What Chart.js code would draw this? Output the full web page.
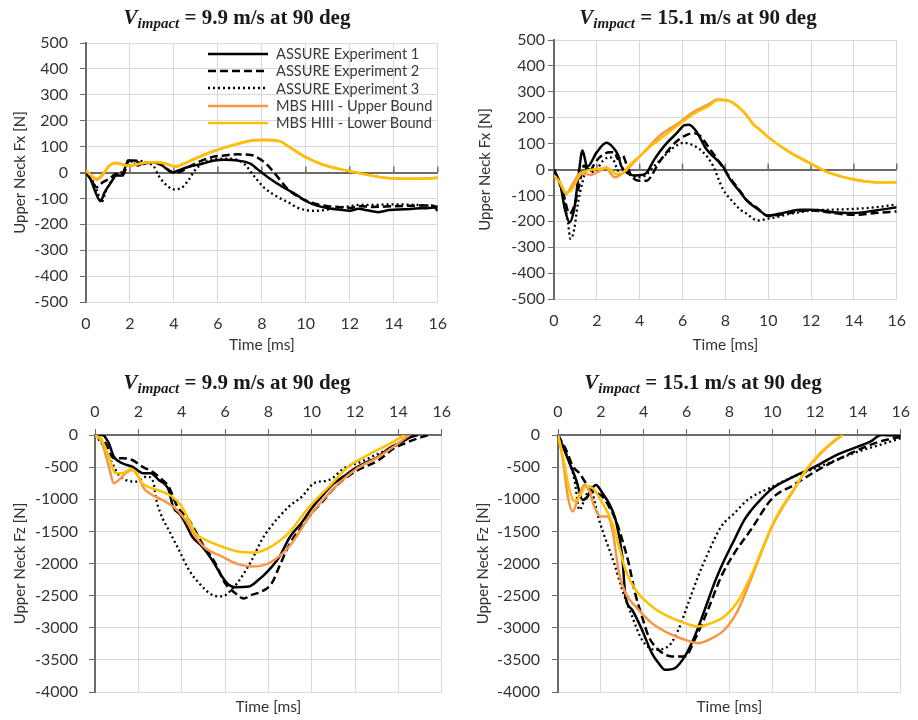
<!DOCTYPE html>
<html lang="en">
<head>
<meta charset="UTF-8">
<title>Upper Neck Forces</title>
<script src="https://cdn.jsdelivr.net/npm/chart.js@4.4.1/dist/chart.umd.min.js"></script>
<style>
  body { margin: 0; background: #fff; }
  #wrap { position: relative; width: 918px; height: 720px; overflow: hidden; }
  canvas { position: absolute; }
  .ttl { position: absolute; transform: translate(-50%, -50%); white-space: nowrap;
         font-family: "Liberation Serif", serif; font-weight: bold; font-size: 21px; color: #1a1a1a; }
  .ttl sub { font-size: 15px; vertical-align: -4px; }
  .legend { position: absolute; left: 208px; top: 45px; font-family: Lato, sans-serif; font-size: 14.6px; color: #3a3a3a; }
  .legend div { height: 17.3px; display: flex; align-items: center; white-space: nowrap; }
  .legend svg { width: 60px; height: 6px; margin-right: 8px; }
</style>
</head>
<body>
<div id="wrap">
  <canvas id="c1" width="459" height="358" style="left:0;top:0"></canvas>
  <canvas id="c2" width="458" height="358" style="left:460px;top:0"></canvas>
  <canvas id="c3" width="459" height="360" style="left:0;top:360px"></canvas>
  <canvas id="c4" width="458" height="360" style="left:460px;top:360px"></canvas>

  <div class="ttl" style="left:237px;top:18px"><i>V</i><sub><i>impact</i></sub> = 9.9 m/s at 90 deg</div>
  <div class="ttl" style="left:698px;top:18px"><i>V</i><sub><i>impact</i></sub> = 15.1 m/s at 90 deg</div>
  <div class="ttl" style="left:237px;top:383px"><i>V</i><sub><i>impact</i></sub> = 9.9 m/s at 90 deg</div>
  <div class="ttl" style="left:703px;top:383px"><i>V</i><sub><i>impact</i></sub> = 15.1 m/s at 90 deg</div>

  <div class="legend" id="legend"></div>
</div>

<script>
// series names
var seriesNames = ["ASSURE Experiment 1", "ASSURE Experiment 2", "ASSURE Experiment 3",
                   "MBS HIII - Upper Bound", "MBS HIII - Lower Bound"]

// time ticks (ms)
var timeMin = 0, timeMax = 16, timeStep = 2

// --- Upper neck Fx, 9.9 m/s  [time ms, force N]
var fx99Exp1 = [[0,0],[0.2,-25],[0.45,-80],[0.66,-111],[0.85,-76],[1.15,-37],[1.37,-12],[1.6,-12],[1.82,27],[1.97,46],[2.19,46],[2.56,33],[3.0,40],[3.46,27],[3.76,8],[3.98,1],[4.2,8],[4.65,21],[5.25,33],[5.84,46],[6.3,49],[6.9,46],[7.5,33],[7.78,14],[8.37,-24],[8.97,-57],[9.56,-85],[10.0,-110],[10.5,-128],[11.0,-138],[11.5,-143],[12.0,-148],[12.4,-140],[12.8,-146],[13.3,-153],[13.8,-145],[14.5,-142],[15.0,-139],[15.6,-137],[15.85,-135],[16.0,-148]]
var fx99Exp2 = [[0,0],[0.25,-30],[0.48,-57],[0.77,-37],[1.07,-24],[1.37,-5],[1.67,-12],[1.82,21],[1.9,46],[2.1,40],[2.34,27],[2.7,40],[3.15,40],[3.6,21],[3.9,1],[4.2,1],[4.65,21],[5.1,40],[5.7,59],[6.3,66],[6.9,70],[7.5,68],[7.78,59],[8.2,33],[8.67,-12],[9.1,-57],[9.56,-89],[10.0,-108],[10.5,-122],[11.0,-130],[11.5,-133],[12.0,-137],[12.5,-130],[13.0,-133],[14.0,-130],[15.0,-128],[15.7,-127],[16.0,-135]]
var fx99Exp3 = [[0,0],[0.33,-37],[0.55,-82],[0.7,-115],[0.92,-70],[1.22,-24],[1.52,-5],[1.82,14],[2.04,40],[2.34,46],[2.7,40],[3.1,21],[3.3,-12],[3.6,-44],[3.98,-65],[4.35,-59],[4.65,-31],[4.95,8],[5.4,40],[6.0,53],[6.6,53],[7.2,33],[7.63,-12],[8.08,-57],[8.67,-92],[9.26,-118],[9.6,-135],[10.0,-145],[10.5,-148],[11.0,-143],[11.5,-135],[12.0,-130],[12.5,-125],[13.0,-125],[14.0,-123],[15.0,-125],[16.0,-130]]
var fx99Upper = [[0,8],[0.25,-14],[0.48,-28],[0.77,-8],[1.07,27],[1.37,38],[1.67,31],[1.97,25],[2.4,33],[2.86,40],[3.3,40],[3.76,30],[4.05,22],[4.35,30],[4.95,53],[5.7,79],[6.44,100],[7.18,117],[7.6,125],[8.08,126],[8.8,121],[9.26,98],[10.0,59],[10.75,31],[11.5,14],[12.24,1],[12.98,-12],[13.7,-21],[14.45,-24],[15.2,-24],[15.9,-21],[16.0,-20]]
var fx99Lower = [[0,8],[0.25,-12],[0.48,-24],[0.77,-5],[1.07,27],[1.37,36],[1.67,30],[1.97,27],[2.4,33],[2.86,40],[3.3,40],[3.76,30],[4.05,23],[4.35,31],[4.95,53],[5.7,79],[6.44,100],[7.18,117],[7.6,124],[8.08,125],[8.8,121],[9.26,98],[10.0,59],[10.75,31],[11.5,14],[12.24,1],[12.98,-12],[13.7,-21],[14.45,-24],[15.2,-24],[15.9,-21],[16.0,-20]]

// --- Upper neck Fx, 15.1 m/s
var fx151Exp1 = [[0,0],[0.3,-60],[0.5,-150],[0.72,-204],[0.95,-150],[1.15,-20],[1.33,73],[1.55,10],[2.0,67],[2.45,103],[2.75,86],[3.0,54],[3.13,15],[3.36,-10],[3.8,-23],[4.26,-17],[4.7,41],[5.17,93],[5.77,144],[6.07,170],[6.3,173],[6.67,144],[7.1,80],[7.9,10],[8.2,-35],[8.7,-88],[9.0,-120],[9.5,-152],[10.0,-178],[10.5,-171],[11.0,-162],[11.5,-155],[12.0,-155],[12.5,-158],[13.0,-165],[14.0,-168],[15.0,-158],[16.0,-146]]
var fx151Exp2 = [[0,0],[0.42,-88],[0.72,-171],[0.95,-139],[1.17,-62],[1.4,15],[1.63,-10],[1.93,28],[2.23,54],[2.6,67],[2.83,67],[2.98,41],[3.2,54],[3.43,9],[3.66,-30],[3.96,-43],[4.34,-43],[4.56,-23],[4.86,22],[5.32,73],[5.77,112],[6.2,134],[6.5,140],[6.8,131],[7.27,80],[7.72,28],[8.2,-30],[8.7,-85],[9.0,-118],[9.5,-150],[10.0,-180],[10.5,-175],[11.0,-168],[11.5,-160],[12.0,-158],[13.0,-168],[14.0,-175],[15.0,-168],[16.0,-162]]
var fx151Exp3 = [[0,0],[0.42,-100],[0.65,-204],[0.77,-268],[0.95,-229],[1.1,-139],[1.33,-49],[1.55,3],[1.85,-10],[2.3,35],[2.6,48],[2.83,28],[2.98,-4],[3.28,3],[3.5,-17],[3.88,-30],[4.26,-23],[4.7,15],[5.17,54],[5.6,86],[6.07,103],[6.5,93],[6.96,67],[7.42,15],[7.88,-75],[8.3,-120],[8.7,-155],[9.0,-171],[9.5,-197],[10.0,-190],[10.5,-182],[11.0,-171],[11.5,-165],[12.0,-158],[13.0,-155],[14.0,-152],[15.0,-146],[16.0,-135]]
var fx151Upper = [[0,-23],[0.3,-55],[0.57,-94],[0.85,-60],[1.25,-13],[1.7,-21],[2.15,-4],[2.45,9],[2.6,-10],[2.83,-30],[3.05,-23],[3.36,-4],[3.66,22],[4.26,73],[5.0,135],[5.77,177],[6.5,222],[7.27,254],[7.6,270],[8.0,268],[8.3,260],[8.7,235],[9.0,209],[9.3,175],[9.6,155],[10.0,125],[11.0,67],[12.0,22],[12.6,-4],[13.0,-17],[14.0,-39],[15.0,-49],[16.0,-49]]
var fx151Lower = [[0,-23],[0.27,-49],[0.57,-90],[0.8,-81],[1.02,-49],[1.25,-17],[1.55,-4],[1.85,0],[2.15,3],[2.45,6],[2.68,-4],[2.9,-17],[3.2,-13],[3.5,15],[3.96,48],[4.56,93],[5.17,131],[5.77,170],[6.52,215],[7.27,247],[7.6,267],[8.0,267],[8.3,260],[8.7,235],[9.0,209],[9.3,175],[9.6,155],[10.0,125],[11.0,67],[12.0,22],[12.6,-4],[13.0,-17],[14.0,-39],[15.0,-49],[16.0,-49]]

// --- Upper neck Fz, 9.9 m/s
var fz99Exp1 = [[0,0],[0.34,0],[0.64,-130],[0.87,-337],[1.26,-440],[1.72,-492],[2.25,-596],[2.56,-596],[2.94,-700],[3.4,-855],[3.6,-1114],[3.94,-1243],[4.25,-1425],[4.48,-1580],[4.94,-1736],[5.4,-1943],[5.86,-2202],[6.17,-2332],[6.47,-2368],[7.1,-2358],[7.55,-2254],[8.0,-2110],[8.5,-1900],[9.0,-1584],[9.5,-1380],[10.0,-1140],[10.5,-940],[11.0,-760],[11.5,-640],[12.0,-518],[12.5,-430],[13.0,-350],[13.7,-181],[14.2,-100],[14.6,-30],[14.9,0]]
var fz99Exp2 = [[0,0],[0.49,-130],[0.87,-363],[1.26,-363],[1.72,-389],[2.18,-492],[2.64,-570],[3.02,-674],[3.4,-803],[3.8,-1114],[4.33,-1321],[4.94,-1684],[5.55,-1995],[6.0,-2306],[6.47,-2461],[6.86,-2545],[7.24,-2487],[7.7,-2435],[8.16,-2306],[8.5,-2050],[9.0,-1684],[9.55,-1425],[10.0,-1218],[10.5,-1036],[11.1,-803],[12.0,-570],[13.1,-389],[13.8,-207],[14.3,-130],[14.9,-52],[15.4,0]]
var fz99Exp3 = [[0,0],[0.41,-181],[0.8,-440],[1.1,-622],[1.41,-700],[1.87,-725],[2.4,-648],[2.71,-751],[2.8,-959],[3.02,-1218],[3.4,-1477],[3.87,-1788],[4.33,-2098],[4.8,-2306],[5.4,-2487],[5.86,-2513],[6.3,-2409],[6.78,-2202],[7.24,-1943],[7.7,-1632],[8.0,-1477],[8.95,-1114],[9.55,-959],[10.1,-751],[10.8,-700],[11.5,-518],[12.3,-415],[13.1,-285],[13.8,-181],[14.4,-52],[14.6,0]]
var fz99Upper = [[0,0],[0.3,-104],[0.64,-492],[0.87,-751],[1.1,-700],[1.41,-596],[1.72,-544],[2.0,-648],[2.25,-829],[2.64,-933],[3.1,-1010],[3.7,-1140],[4.17,-1321],[4.63,-1580],[5.1,-1762],[5.86,-1891],[6.47,-1995],[7.24,-2046],[8.0,-2000],[8.95,-1740],[10.0,-1218],[11.1,-803],[12.0,-544],[13.1,-337],[14.0,-130],[14.5,0]]
var fz99Lower = [[0,0],[0.3,-78],[0.64,-337],[0.95,-596],[1.26,-596],[1.64,-534],[1.87,-570],[2.18,-751],[2.64,-829],[3.1,-881],[3.56,-959],[4.0,-1114],[4.33,-1321],[4.63,-1529],[5.1,-1632],[5.86,-1736],[6.6,-1813],[7.4,-1829],[8.0,-1762],[8.95,-1520],[9.9,-1114],[10.8,-803],[11.7,-492],[12.6,-311],[13.5,-155],[14.3,0]]

// --- Upper neck Fz, 15.1 m/s
var fz151Exp1 = [[0,0],[0.23,-181],[0.54,-440],[0.85,-700],[1.15,-1010],[1.38,-959],[1.54,-855],[1.77,-777],[2.08,-907],[2.38,-1062],[2.69,-1321],[3.0,-1891],[3.15,-2513],[3.46,-2720],[3.92,-3031],[4.38,-3394],[4.69,-3549],[5.0,-3653],[5.46,-3627],[5.92,-3446],[6.38,-3135],[6.85,-2720],[7.3,-2306],[7.77,-1943],[8.23,-1632],[8.7,-1321],[9.0,-1180],[9.5,-990],[10.0,-831],[11.0,-649],[12.0,-494],[13.0,-312],[14.0,-182],[14.6,-100],[15.1,0],[16.0,-15]]
var fz151Exp2 = [[0,0],[0.38,-233],[0.7,-492],[1.0,-596],[1.31,-751],[1.69,-881],[2.08,-959],[2.38,-1114],[2.69,-1321],[3.0,-1632],[3.3,-1995],[3.6,-2461],[3.92,-2824],[4.23,-3135],[4.69,-3342],[5.3,-3446],[5.92,-3446],[6.38,-3187],[7.0,-2720],[7.62,-2202],[8.23,-1840],[9.0,-1477],[10.0,-987],[11.0,-779],[12.0,-571],[13.0,-390],[14.0,-234],[15.0,-104],[16.0,-26]]
var fz151Exp3 = [[0,0],[0.38,-285],[0.77,-700],[1.0,-1166],[1.23,-1010],[1.54,-803],[1.69,-1010],[1.92,-1321],[2.23,-1632],[2.62,-1995],[3.0,-2409],[3.46,-2824],[3.92,-3187],[4.54,-3342],[5.15,-3290],[5.62,-3031],[6.08,-2617],[6.54,-2202],[7.0,-1840],[7.62,-1425],[8.23,-1218],[8.85,-1010],[10.0,-805],[11.0,-649],[12.0,-519],[13.0,-390],[14.0,-260],[15.0,-156],[16.0,-52]]
var fz151Upper = [[0,0],[0.23,-389],[0.46,-959],[0.69,-1192],[0.92,-1010],[1.23,-777],[1.46,-855],[1.69,-1114],[2.0,-1270],[2.31,-1270],[2.54,-1477],[2.85,-2150],[3.15,-2461],[3.62,-2668],[4.38,-2928],[5.15,-3083],[5.92,-3187],[6.54,-3240],[7.15,-3170],[7.77,-3031],[8.38,-2740],[9.0,-2250],[9.5,-1820],[10.0,-1420],[10.5,-1120],[11.0,-860],[11.5,-590],[12.0,-380],[12.5,-210],[13.0,-70],[13.3,0]]
var fz151Lower = [[0,0],[0.23,-337],[0.54,-855],[0.77,-1036],[1.0,-959],[1.31,-803],[1.62,-829],[2.08,-1062],[2.54,-1373],[2.85,-1736],[3.15,-2098],[3.62,-2409],[4.38,-2668],[5.15,-2824],[5.92,-2928],[6.54,-2980],[7.15,-2928],[7.77,-2824],[8.38,-2600],[9.0,-2200],[9.5,-1800],[10.0,-1400],[10.5,-1100],[11.0,-850],[11.5,-580],[12.0,-370],[12.5,-200],[13.0,-60],[13.3,0]]

var seriesStyles = [
    { color: "#000000", width: 2.5, dash: [] },
    { color: "#000000", width: 2.5, dash: [8, 4] },
    { color: "#000000", width: 2.3, dash: [2, 3] },
    { color: "#F79646", width: 2.5, dash: [] },
    { color: "#FFC000", width: 2.5, dash: [] }
]

Chart.defaults.font.family = "Lato, sans-serif"
Chart.defaults.color = "#333333"

// legend (html, inside first panel)
var leg = document.getElementById("legend")
for (var i = 0; i < seriesNames.length; i++) {
    var s = seriesStyles[i]
    leg.innerHTML += '<div><svg viewBox="0 0 60 6"><line x1="0" y1="3" x2="60" y2="3" stroke="' + s.color +
        '" stroke-width="' + s.width + '" stroke-dasharray="' + (s.dash.length ? s.dash.join(",") : "none") +
        '"/></svg><span>' + seriesNames[i] + '</span></div>'
}

// little tick marks on the zero line (Fx charts)
var zeroTicks = {
    id: "zeroTicks",
    beforeDatasetsDraw: function(chart) {
        var c = chart.ctx, xs = chart.scales.x, y0 = chart.scales.y.getPixelForValue(0)
        c.save()
        c.strokeStyle = "#6b6b6b"
        c.lineWidth = 1.5
        for (var t = timeMin + timeStep; t <= timeMax; t += timeStep) {
            var px = xs.getPixelForValue(t)
            c.beginPath(); c.moveTo(px, y0); c.lineTo(px, y0 - 6); c.stroke()
        }
        c.restore()
    }
}

function makeDatasets(list) {
    return list.map(function(pts, i) {
        var s = seriesStyles[i]
        return {
            label: seriesNames[i],
            data: pts.map(function(p) { return { x: p[0], y: p[1] } }),
            borderColor: s.color,
            borderWidth: s.width,
            borderDash: s.dash,
            pointRadius: 0,
            fill: false,
            cubicInterpolationMode: "monotone",
            order: list.length - i
        }
    })
}

function plainTick(v) { return String(v) }

function makeChart(id, list, o) {
    var scales = {
        x: {
            type: "linear", min: timeMin, max: timeMax, position: o.top ? "top" : "bottom",
            ticks: { stepSize: timeStep, padding: o.xPad, font: { size: 16 }, callback: plainTick },
            grid: { color: "#d9d9d9", drawTicks: !!o.top, tickLength: 6, tickColor: "#6b6b6b" },
            border: o.top ? { color: "#6b6b6b", width: 2 } : { color: "#d9d9d9", width: 1 },
            title: { display: !o.top, text: "Time [ms]", font: { size: 15.5 }, padding: { top: 0, bottom: 4 } },
            afterFit: function(s) { s.height = o.xH }
        },
        y: {
            min: o.yMin, max: o.yMax,
            ticks: { stepSize: o.yStep, padding: o.yPad, font: { size: 16 }, callback: plainTick },
            grid: {
                color: function(ctx) { return (!o.top && ctx.tick && ctx.tick.value === 0) ? "#6b6b6b" : "#d9d9d9" },
                lineWidth: function(ctx) { return (!o.top && ctx.tick && ctx.tick.value === 0) ? 2 : 1 },
                tickLength: 6, tickColor: "#6b6b6b"
            },
            border: { color: "#6b6b6b", width: 2 },
            title: { display: true, text: o.yTitle, font: { size: 15 }, padding: { top: o.yTitlePad, bottom: 0 } },
            afterFit: function(s) { s.width = o.yW }
        }
    }
    if (o.top) {
        scales.x2 = {
            type: "linear", min: timeMin, max: timeMax, position: "bottom",
            ticks: { display: false }, grid: { display: false }, border: { display: false },
            title: { display: true, text: "Time [ms]", font: { size: 15.5 }, padding: { top: 0, bottom: 4 } },
            afterFit: function(s) { s.height = o.x2H }
        }
    }
    return new Chart(document.getElementById(id), {
        type: "line",
        data: { datasets: makeDatasets(list) },
        options: {
            responsive: false,
            animation: false,
            layout: { padding: { left: 0, right: o.padR, top: o.padT, bottom: 0 } },
            plugins: { legend: { display: false }, tooltip: { enabled: false } },
            scales: scales
        },
        plugins: o.top ? [] : [zeroTicks]
    })
}

makeChart("c1", [fx99Exp1, fx99Exp2, fx99Exp3, fx99Upper, fx99Lower], {
    yMin: -500, yMax: 500, yStep: 100, yTitle: "Upper Neck Fx [N]",
    yW: 86, yPad: 12, yTitlePad: 11, padR: 15, padT: 43, xH: 56, xPad: 12
})
makeChart("c2", [fx151Exp1, fx151Exp2, fx151Exp3, fx151Upper, fx151Lower], {
    yMin: -500, yMax: 500, yStep: 100, yTitle: "Upper Neck Fx [N]",
    yW: 94, yPad: 3, yTitlePad: 16, padR: 10, padT: 40, xH: 59, xPad: 12
})
makeChart("c3", [fz99Exp1, fz99Exp2, fz99Exp3, fz99Upper, fz99Lower], {
    top: true, yMin: -4000, yMax: 0, yStep: 500, yTitle: "Upper Neck Fz [N]",
    yW: 95, yPad: 11, yTitlePad: 11, padR: 15, padT: 0, xH: 75, x2H: 28, xPad: 8
})
makeChart("c4", [fz151Exp1, fz151Exp2, fz151Exp3, fz151Upper, fz151Lower], {
    top: true, yMin: -4000, yMax: 0, yStep: 500, yTitle: "Upper Neck Fz [N]",
    yW: 98, yPad: 12, yTitlePad: 14, padR: 10, padT: 0, xH: 75, x2H: 28, xPad: 8
})
</script>
</body>
</html>
